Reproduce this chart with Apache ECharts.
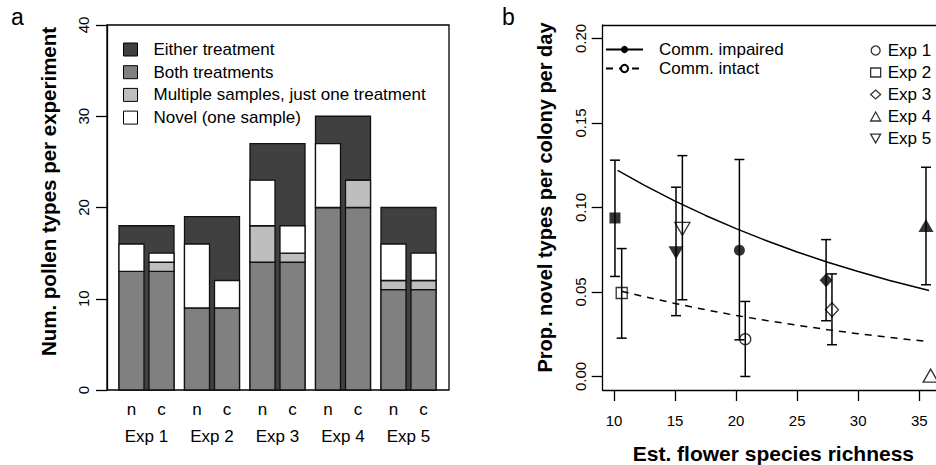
<!DOCTYPE html>
<html>
<head>
<meta charset="utf-8">
<script src="https://cdn.jsdelivr.net/npm/echarts@6/dist/echarts.min.js"></script>
<style>
  html, body { margin: 0; padding: 0; background: #fff; }
  #chart { width: 936px; height: 465px; }
</style>
</head>
<body>
<div id="chart"></div>
<script>
// ---- panel a: pollen types per experiment ----
const experiments = ["Exp 1", "Exp 2", "Exp 3", "Exp 4", "Exp 5"];
const treatments = ["n", "c"];
const eitherTotal = [18, 19, 27, 30, 20];
const bothN = [13, 9, 14, 20, 11];
const bothC = [13, 9, 14, 20, 11];
const multipleN = [0, 0, 4, 0, 1];
const multipleC = [1, 0, 1, 3, 1];
const novelN = [3, 7, 5, 7, 4];
const novelC = [1, 3, 3, 0, 3];
const countTicks = [0, 10, 20, 30, 40];

// ---- panel b: novel types vs flower richness ----
const expSymbols = ["circle", "rect", "diamond", "triangle", "path://M0,0L2,0L1,1.732Z"];
const richImpaired = [20.27, 10.08, 27.37, 35.55, 15.08];
const propImpaired = [0.0747, 0.0938, 0.0569, 0.0893, 0.0732];
const loImpaired = [0.0217, 0.0592, 0.0330, 0.0543, 0.0360];
const hiImpaired = [0.1284, 0.1280, 0.0810, 0.1238, 0.1120];
const richIntact = [20.75, 10.63, 27.85, 35.93, 15.60];
const propIntact = [0.0221, 0.0494, 0.0395, 0.0005, 0.0873];
const loIntact = [0.0000, 0.0227, 0.0188, 0.0005, 0.0454];
const hiIntact = [0.0444, 0.0757, 0.0607, 0.0005, 0.1307];
const fitRichness = [10.3, 12.5, 15, 17.5, 20, 22.5, 25, 27.5, 30, 32.5, 35.8];
const fitImpaired = [0.1220, 0.1131, 0.1038, 0.0953, 0.0875, 0.0803, 0.0737, 0.0676, 0.0621, 0.0570, 0.0509];
const fitIntactRichness = [10.63, 12.5, 15, 17.5, 20, 22.5, 25, 27.5, 30, 32.5, 35.8];
const fitIntact = [0.0504, 0.0472, 0.0432, 0.0395, 0.0361, 0.0331, 0.0303, 0.0277, 0.0253, 0.0232, 0.0206];
const richTicks = [10, 15, 20, 25, 30, 35];
const propTicks = [0, 0.05, 0.1, 0.15, 0.2];

// layout of the bar groups (in bar-width units)
const firstLeft = 0.48, groupStep = 2.62, pairStep = 1.2;
const nLeft = i => firstLeft + groupStep * i;
const barCenters = [];
experiments.forEach((e, i) => {
  barCenters.push(nLeft(i) + 0.5, nLeft(i) + pairStep + 0.5);
});
const groupCenters = experiments.map((e, i) => nLeft(i) + (pairStep + 1) / 2);

const FONT = "'Liberation Sans', Arial, Helvetica, sans-serif";
const colors = { either: "#404040", both: "#808080", multiple: "#bebebe", novel: "#ffffff" };
const axisBlack = { color: "#000", width: 1.3 };

// rows: [x0, x1, y0, y1]
const eitherRows = eitherTotal.map((t, i) => [nLeft(i), nLeft(i) + pairStep + 1, 0, t]);
const bothRows = [], multipleRows = [], novelRows = [];
experiments.forEach((e, i) => {
  [[bothN, multipleN, novelN], [bothC, multipleC, novelC]].forEach((s, k) => {
    const x0 = nLeft(i) + k * pairStep, x1 = x0 + 1;
    const b = s[0][i], m = s[1][i], nv = s[2][i];
    bothRows.push([x0, x1, 0, b]);
    multipleRows.push([x0, x1, b, b + m]);
    novelRows.push([x0, x1, b + m, b + m + nv]);
  });
});

const rectItem = fill => (params, api) => {
  const p0 = api.coord([api.value(0), api.value(3)]);
  const p1 = api.coord([api.value(1), api.value(2)]);
  return {
    type: "rect",
    shape: { x: p0[0], y: p0[1], width: p1[0] - p0[0], height: p1[1] - p0[1] },
    style: { fill: fill, stroke: "#111", lineWidth: 1.3 }
  };
};

const barSeries = (name, rows, fill) => ({
  type: "custom",
  name: name,
  xAxisIndex: 0,
  yAxisIndex: 0,
  data: rows,
  encode: { x: [0, 1], y: [2, 3] },
  itemStyle: { color: fill },
  renderItem: rectItem(fill)
});

// error bars: [x, lo, hi]
const errRows = [];
experiments.forEach((e, i) => {
  errRows.push([richImpaired[i], loImpaired[i], hiImpaired[i]]);
  if (hiIntact[i] > loIntact[i]) errRows.push([richIntact[i], loIntact[i], hiIntact[i]]);
});

const errItem = (params, api) => {
  const top = api.coord([api.value(0), api.value(2)]);
  const bot = api.coord([api.value(0), api.value(1)]);
  const cap = 5;
  const st = { stroke: "#000", lineWidth: 1.5 };
  return {
    type: "group",
    children: [
      { type: "line", shape: { x1: top[0], y1: top[1], x2: bot[0], y2: bot[1] }, style: st },
      { type: "line", shape: { x1: top[0] - cap, y1: top[1], x2: top[0] + cap, y2: top[1] }, style: st },
      { type: "line", shape: { x1: bot[0] - cap, y1: bot[1], x2: bot[0] + cap, y2: bot[1] }, style: st }
    ]
  };
};

const symSizes = [11, 11, [13, 14], [15, 13], [15, 13]];
const pointSeries = experiments.map((e, i) => ({
  type: "scatter",
  name: e,
  xAxisIndex: 2,
  yAxisIndex: 1,
  symbol: expSymbols[i],
  symbolSize: symSizes[i],
  clip: false,
  z: 5,
  data: [
    { value: [richImpaired[i], propImpaired[i]], itemStyle: { color: "#000" } },
    { value: [richIntact[i], propIntact[i]], itemStyle: { color: "rgba(0,0,0,0)", borderColor: "#000", borderWidth: 1.3 } }
  ]
}));

const legendText = pad => ({ fontFamily: FONT, fontSize: 17, color: "#000", lineHeight: 17, padding: [0, 0, 0, pad] });

// panel b is cut by the right edge of the picture: its x range ends at the canvas edge
const richMin = 9.075, richMax = 36.37;

const chart = echarts.init(document.getElementById("chart"), null, { renderer: "svg" });
chart.setOption({
  animation: false,
  textStyle: { fontFamily: FONT, color: "#000" },
  title: [
    { text: "a", left: 11, top: 5, padding: 0, textStyle: { fontFamily: FONT, fontSize: 23, fontWeight: "normal", color: "#000" } },
    { text: "b", left: 502, top: 5, padding: 0, textStyle: { fontFamily: FONT, fontSize: 23, fontWeight: "normal", color: "#000" } }
  ],
  legend: [
    {
      left: 123, top: 41, padding: 0, orient: "vertical", selectedMode: false,
      itemWidth: 14, itemHeight: 13, itemGap: 5.7,
      textStyle: legendText(11),
      data: [
        { name: "Either treatment", icon: "rect", itemStyle: { color: colors.either, borderColor: "#000", borderWidth: 1 } },
        { name: "Both treatments", icon: "rect", itemStyle: { color: colors.both, borderColor: "#000", borderWidth: 1 } },
        { name: "Multiple samples, just one treatment", icon: "rect", itemStyle: { color: colors.multiple, borderColor: "#000", borderWidth: 1 } },
        { name: "Novel (one sample)", icon: "rect", itemStyle: { color: colors.novel, borderColor: "#000", borderWidth: 1 } }
      ]
    },
    {
      left: 605, top: 41, padding: 0, orient: "vertical", selectedMode: false,
      itemWidth: 37, itemHeight: 9, itemGap: 2,
      textStyle: legendText(11),
      data: ["Comm. impaired", "Comm. intact"]
    },
    {
      left: 870, top: 42, padding: 0, orient: "vertical", selectedMode: false,
      itemWidth: 10, itemHeight: 9, itemGap: 5,
      textStyle: legendText(2),
      data: experiments.map((e, i) => ({
        name: e, icon: expSymbols[i],
        itemStyle: { color: "rgba(0,0,0,0)", borderColor: "#000", borderWidth: 1.3 }
      }))
    }
  ],
  grid: [
    { left: 107, top: 25, width: 342, height: 365, outerBoundsMode: "none", show: true, borderColor: "#000", borderWidth: 1.3, backgroundColor: "transparent" },
    { left: 602.7, top: 25, right: 0, height: 365, outerBoundsMode: "none" }
  ],
  xAxis: [
    {
      type: "value", gridIndex: 0, min: 0, max: 13.68,
      axisLine: { show: false }, axisTick: { show: false }, splitLine: { show: false },
      axisLabel: {
        customValues: barCenters, margin: 11, fontSize: 17, color: "#000", fontFamily: FONT,
        formatter: v => treatments[barCenters.findIndex(c => Math.abs(c - v) < 1e-6) % 2]
      }
    },
    {
      type: "value", gridIndex: 0, min: 0, max: 13.68, position: "bottom",
      axisLine: { show: false }, axisTick: { show: false }, splitLine: { show: false },
      axisLabel: {
        customValues: groupCenters, margin: 38, fontSize: 17, color: "#000", fontFamily: FONT,
        formatter: v => experiments[groupCenters.findIndex(c => Math.abs(c - v) < 1e-6)]
      }
    },
    {
      type: "value", gridIndex: 1, min: richMin, max: richMax, position: "bottom",
      name: "Est. flower species richness", nameLocation: "middle", nameGap: 53,
      nameTextStyle: { fontFamily: FONT, fontSize: 21, fontWeight: "bold", color: "#000", padding: [0, 0, 0, 8] },
      axisLine: { show: true, onZero: false, lineStyle: axisBlack },
      axisTick: { customValues: richTicks, length: 11, lineStyle: axisBlack },
      splitLine: { show: false },
      axisLabel: { customValues: richTicks, margin: 23, fontSize: 15, color: "#000", fontFamily: FONT }
    },
    {
      type: "value", gridIndex: 1, min: richMin, max: richMax, position: "top",
      axisLine: { show: true, onZero: false, lineStyle: axisBlack },
      axisTick: { show: false }, axisLabel: { show: false }, splitLine: { show: false }
    }
  ],
  yAxis: [
    {
      type: "value", gridIndex: 0, min: 0, max: 40,
      name: "Num. pollen types per experiment", nameLocation: "middle", nameGap: 48,
      nameTextStyle: { fontFamily: FONT, fontSize: 20.5, fontWeight: "bold", color: "#000", padding: [0, 0, 0, 32] },
      axisLine: { show: true, lineStyle: axisBlack },
      axisTick: { customValues: countTicks, length: 11, lineStyle: axisBlack },
      splitLine: { show: false },
      axisLabel: { customValues: countTicks, rotate: 90, margin: 16, fontSize: 15, color: "#000", fontFamily: FONT }
    },
    {
      type: "value", gridIndex: 1, min: -0.008, max: 0.208,
      name: "Prop. novel types per colony per day", nameLocation: "middle", nameGap: 48,
      nameTextStyle: { fontFamily: FONT, fontSize: 20, fontWeight: "bold", color: "#000", padding: [0, 0, 0, 20] },
      axisLine: { show: true, onZero: false, lineStyle: axisBlack },
      axisTick: { customValues: propTicks, length: 11, lineStyle: axisBlack },
      splitLine: { show: false },
      axisLabel: { customValues: propTicks, rotate: 90, margin: 15, fontSize: 15, color: "#000", fontFamily: FONT, formatter: v => v.toFixed(2) }
    }
  ],
  series: [
    barSeries("Either treatment", eitherRows, colors.either),
    barSeries("Both treatments", bothRows, colors.both),
    barSeries("Multiple samples, just one treatment", multipleRows, colors.multiple),
    barSeries("Novel (one sample)", novelRows, colors.novel),
    {
      type: "line", name: "Comm. impaired", xAxisIndex: 2, yAxisIndex: 1,
      data: fitRichness.map((x, i) => [x, fitImpaired[i]]),
      symbol: "circle", symbolSize: 9, showSymbol: false,
      itemStyle: { color: "#000" }, lineStyle: { color: "#000", width: 1.5 }
    },
    {
      type: "line", name: "Comm. intact", xAxisIndex: 2, yAxisIndex: 1,
      data: fitIntactRichness.map((x, i) => [x, fitIntact[i]]),
      symbol: "emptyCircle", symbolSize: 9, showSymbol: false,
      itemStyle: { color: "#000" }, lineStyle: { color: "#000", width: 1.5, type: [7, 6] }
    },
    {
      type: "custom", name: "errors", xAxisIndex: 2, yAxisIndex: 1,
      data: errRows, encode: { x: 0, y: [1, 2] }, renderItem: errItem, z: 3
    },
    ...pointSeries
  ]
});
</script>
</body>
</html>
